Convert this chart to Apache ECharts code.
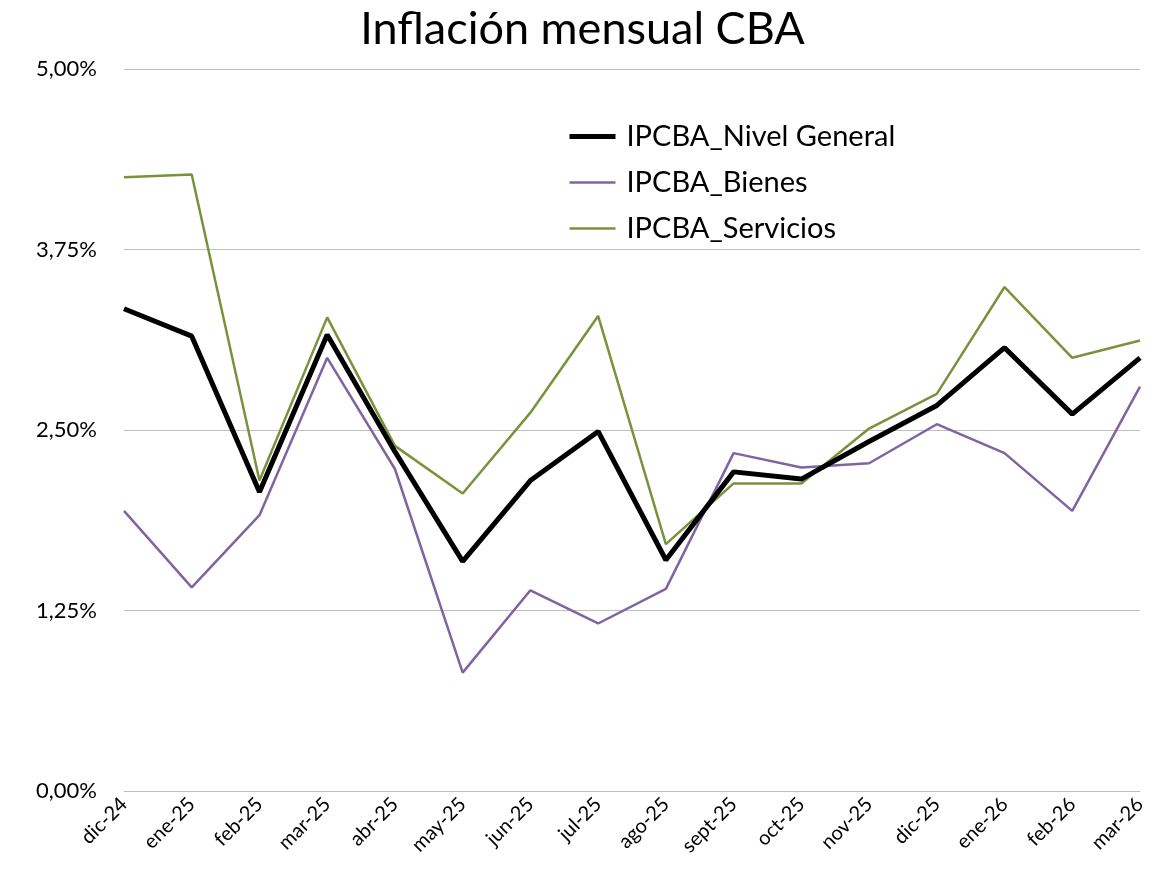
<!DOCTYPE html>
<html><head><meta charset="utf-8">
<script src="https://cdn.jsdelivr.net/npm/echarts@6/dist/echarts.min.js"></script>
<style>html,body{margin:0;padding:0;background:#fff}#c{width:1165px;height:875px}</style>
</head><body><div id="c"></div>
<script>
const categories = ['dic-24','ene-25','feb-25','mar-25','abr-25','may-25','jun-25','jul-25','ago-25','sept-25','oct-25','nov-25','dic-25','ene-26','feb-26','mar-26'];
const nivelGeneral = [3.34,3.15,2.07,3.16,2.35,1.59,2.15,2.49,1.60,2.21,2.16,2.42,2.67,3.07,2.61,3.00];
const bienes = [1.94,1.41,1.91,3.00,2.23,0.82,1.39,1.16,1.40,2.34,2.24,2.27,2.54,2.34,1.94,2.80];
const servicios = [4.25,4.27,2.15,3.28,2.39,2.06,2.62,3.29,1.71,2.13,2.13,2.51,2.75,3.49,3.00,3.12];
const yTicks = {min:0, max:5, interval:1.25};
const FONT = 'Lato';
const chart = echarts.init(document.getElementById('c'));
chart.setOption({
  animation:false,
  title:{text:'Inflación mensual CBA', left:'center', top:2, textStyle:{fontFamily:FONT, fontSize:45, fontWeight:'normal', color:'#000'}},
  grid:{left:124, right:25, top:69, bottom:84},
  legend:{orient:'vertical', left:562, top:117, itemWidth:46, itemHeight:14, itemGap:17,
    itemStyle:{opacity:0},
    textStyle:{fontFamily:FONT, fontSize:29, color:'#000', padding:[0,0,0,6]},
    data:[
      {name:'IPCBA_Nivel General', lineStyle:{width:5, color:'#000'}},
      {name:'IPCBA_Bienes', lineStyle:{width:2.5, color:'#8064a2'}},
      {name:'IPCBA_Servicios', lineStyle:{width:2.5, color:'#77933c'}}
    ]},
  xAxis:{type:'category', data:categories, boundaryGap:false,
    axisLine:{show:true, lineStyle:{color:'#bfbfbf', width:1}}, axisTick:{show:false},
    axisLabel:{rotate:45, fontFamily:FONT, fontSize:20, color:'#000', margin:10, interval:0}},
  yAxis:{type:'value', min:yTicks.min, max:yTicks.max, interval:yTicks.interval,
    axisLine:{show:false}, axisTick:{show:false},
    splitLine:{lineStyle:{color:'#bfbfbf', width:1}},
    axisLabel:{fontFamily:FONT, fontSize:22, color:'#000', margin:27,
      formatter:v=>v.toFixed(2).replace('.',',')+'%'}},
  series:[
    {name:'IPCBA_Nivel General', type:'line', data:nivelGeneral, symbol:'none', z:3,
      lineStyle:{color:'#000000', width:5}, itemStyle:{color:'#000000'}},
    {name:'IPCBA_Bienes', type:'line', data:bienes, symbol:'none', z:2,
      lineStyle:{color:'#8064a2', width:2.5}, itemStyle:{color:'#8064a2'}},
    {name:'IPCBA_Servicios', type:'line', data:servicios, symbol:'none', z:2,
      lineStyle:{color:'#77933c', width:2.5}, itemStyle:{color:'#77933c'}}
  ]
});
</script></body></html>
